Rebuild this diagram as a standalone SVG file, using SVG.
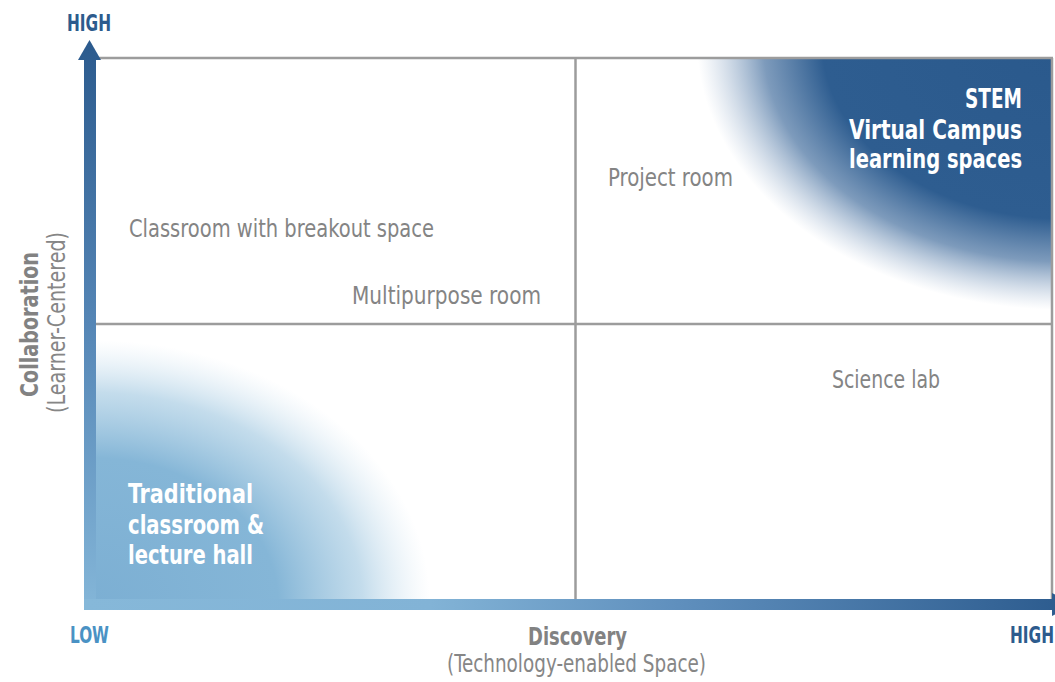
<svg xmlns="http://www.w3.org/2000/svg" width="1055" height="682" viewBox="0 0 1055 682">
<defs>
<style>
.lbl{font-family:"Liberation Sans Narrow","DejaVu Sans Condensed","Liberation Sans",sans-serif;fill:#848484;font-size:25px;}
.ttl{font-family:"Liberation Sans Narrow","DejaVu Sans Condensed","Liberation Sans",sans-serif;fill:#828282;font-weight:bold;font-size:25px;}
.sub{font-family:"Liberation Sans Narrow","DejaVu Sans Condensed","Liberation Sans",sans-serif;fill:#868686;font-size:24px;}
.wht{font-family:"Liberation Sans Narrow","DejaVu Sans Condensed","Liberation Sans",sans-serif;fill:#ffffff;font-weight:bold;font-size:27px;}
.axl{font-family:"Liberation Sans Narrow","DejaVu Sans Condensed","Liberation Sans",sans-serif;font-weight:bold;font-size:23px;}
.grid{stroke:#9c9c9c;stroke-width:2.5;fill:none;}
</style>
<radialGradient id="gTR" cx="0.5" cy="0.5" r="0.5">
<stop offset="0" stop-color="#2a598c"/>
<stop offset="0.66" stop-color="#2e5d90"/>
<stop offset="0.82" stop-color="#46709f" stop-opacity="0.7"/>
<stop offset="1" stop-color="#8aa5c6" stop-opacity="0"/>
</radialGradient>
<radialGradient id="gBL" cx="0.5" cy="0.5" r="0.5">
<stop offset="0" stop-color="#7cafd3"/>
<stop offset="0.55" stop-color="#85b6d7"/>
<stop offset="0.8" stop-color="#9cc5df" stop-opacity="0.6"/>
<stop offset="1" stop-color="#c4dcec" stop-opacity="0"/>
</radialGradient>
<linearGradient id="gY" gradientUnits="userSpaceOnUse" x1="0" y1="40" x2="0" y2="610">
<stop offset="0" stop-color="#2b5a8d"/>
<stop offset="0.5" stop-color="#5586b6"/>
<stop offset="1" stop-color="#84b6d8"/>
</linearGradient>
<linearGradient id="gX" gradientUnits="userSpaceOnUse" x1="84" y1="0" x2="1075" y2="0">
<stop offset="0" stop-color="#86b8d9"/>
<stop offset="0.35" stop-color="#82b3d6"/>
<stop offset="0.6" stop-color="#5f8fbd"/>
<stop offset="1" stop-color="#2b5a8d"/>
</linearGradient>
<clipPath id="panel"><rect x="96" y="58" width="956" height="541"/></clipPath>
</defs>
<rect width="1055" height="682" fill="#ffffff"/>
<g id="blobs" clip-path="url(#panel)">
<ellipse cx="1065" cy="42" rx="368" ry="268" fill="url(#gTR)"/>
<ellipse cx="92" cy="602" rx="338" ry="262" fill="url(#gBL)"/>
</g>
<g id="grid">
<line class="grid" x1="96" y1="58" x2="1053" y2="58"/>
<line class="grid" x1="1052" y1="58" x2="1052" y2="599"/>
<line class="grid" x1="575.5" y1="58" x2="575.5" y2="599"/>
<line class="grid" x1="96" y1="324" x2="1052" y2="324"/>
</g>
<g id="connectors">
<rect x="84" y="59" width="12" height="551" fill="url(#gY)"/>
<polygon points="78,60 101,60 89.5,40" fill="url(#gY)"/>
<rect x="84" y="599" width="970" height="11" fill="url(#gX)"/>
<polygon points="1052,593 1052,616 1075,604.5" fill="url(#gX)"/>
</g>
<g id="axis-y-labels">
<text class="axl" x="67" y="31" fill="#2d5b8d" textLength="44" lengthAdjust="spacingAndGlyphs">HIGH</text>
<text class="ttl" transform="translate(38,324.5) rotate(-90)" text-anchor="middle" textLength="145" lengthAdjust="spacingAndGlyphs">Collaboration</text>
<text class="sub" transform="translate(65,322.5) rotate(-90)" text-anchor="middle" textLength="181" lengthAdjust="spacingAndGlyphs">(Learner-Centered)</text>
</g>
<g id="axis-x-labels">
<text class="axl" x="70" y="643" fill="#4a92c4" textLength="39" lengthAdjust="spacingAndGlyphs">LOW</text>
<text class="axl" x="1010" y="643" fill="#2d5b8d" textLength="44" lengthAdjust="spacingAndGlyphs">HIGH</text>
<text class="ttl" x="528" y="645" textLength="99" lengthAdjust="spacingAndGlyphs">Discovery</text>
<text class="sub" x="447" y="672" textLength="259" lengthAdjust="spacingAndGlyphs">(Technology-enabled Space)</text>
</g>
<g id="node-stem">
<text class="wht" x="1022" y="108" text-anchor="end" textLength="57" lengthAdjust="spacingAndGlyphs">STEM</text>
<text class="wht" x="1022" y="139" text-anchor="end" textLength="173" lengthAdjust="spacingAndGlyphs">Virtual Campus</text>
<text class="wht" x="1022" y="168" text-anchor="end" textLength="173" lengthAdjust="spacingAndGlyphs">learning spaces</text>
</g>
<g id="node-traditional">
<text class="wht" x="128" y="503" textLength="125" lengthAdjust="spacingAndGlyphs">Traditional</text>
<text class="wht" x="128" y="534" textLength="136" lengthAdjust="spacingAndGlyphs">classroom &amp;</text>
<text class="wht" x="128" y="564" textLength="125" lengthAdjust="spacingAndGlyphs">lecture hall</text>
</g>
<g id="node-project-room">
<text class="lbl" x="608" y="186" textLength="125" lengthAdjust="spacingAndGlyphs">Project room</text>
</g>
<g id="node-classroom-breakout">
<text class="lbl" x="129" y="237" textLength="305" lengthAdjust="spacingAndGlyphs">Classroom with breakout space</text>
</g>
<g id="node-multipurpose">
<text class="lbl" x="352" y="304" textLength="189" lengthAdjust="spacingAndGlyphs">Multipurpose room</text>
</g>
<g id="node-science-lab">
<text class="lbl" x="832" y="388" textLength="108" lengthAdjust="spacingAndGlyphs">Science lab</text>
</g>
</svg>
